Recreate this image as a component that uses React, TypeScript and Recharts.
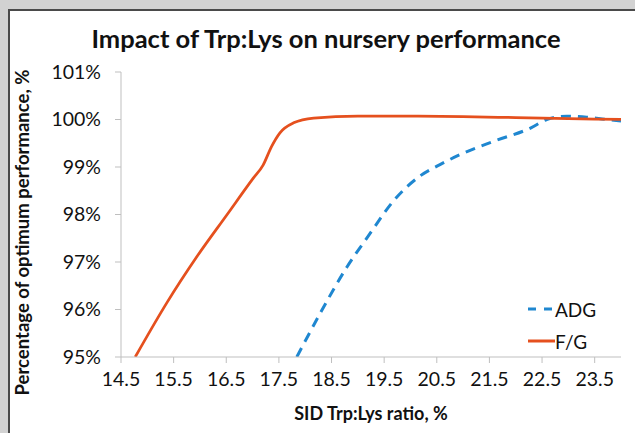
import React from 'react';
import { LineChart, Line, XAxis, YAxis, Legend } from 'recharts';

const xTicks = [14.5, 15.5, 16.5, 17.5, 18.5, 19.5, 20.5, 21.5, 22.5, 23.5];
const yTicks = [95, 96, 97, 98, 99, 100, 101];

const fgRatio = [14.77, 15.37, 15.94, 16.51, 17.01, 17.2, 17.36, 17.52, 17.78, 18.16, 19.0, 20.0, 21.0, 22.0, 23.0, 24.0];
const fgValue = [95.0, 96.14, 97.11, 97.99, 98.76, 99.04, 99.43, 99.72, 99.93, 100.03, 100.07, 100.07, 100.06, 100.04, 100.02, 100.0];

const adgRatio = [17.84, 18.28, 18.79, 19.2, 19.68, 20.18, 20.56, 20.94, 21.58, 22.28, 22.59, 22.97, 23.35, 23.73, 24.0];
const adgValue = [95.0, 95.91, 96.89, 97.55, 98.29, 98.81, 99.05, 99.26, 99.54, 99.82, 100.0, 100.07, 100.05, 100.0, 99.97];

const fgData = fgRatio.map((x, i) => ({ x, v: fgValue[i] }));
const adgData = adgRatio.map((x, i) => ({ x, v: adgValue[i] }));

const FONT = "Lato, 'Open Sans', sans-serif";
const ADG_COLOR = '#1F87D0';
const FG_COLOR = '#E5501E';
const AXIS_COLOR = '#BFBFBF';

const YLabel = (props: any) => {
  const vb = props.viewBox || { x: 0, y: 72, width: 121, height: 285 };
  const cx = 22;
  const cy = vb.y + vb.height / 2 + 18;
  return (
    <text
      x={cx}
      y={cy}
      transform={`rotate(-90 ${cx} ${cy})`}
      textAnchor="middle"
      dominantBaseline="central"
      style={{ fontFamily: FONT, fontSize: 18.5, fontWeight: 700, fill: '#111' }}
    >
      Percentage of optimum performance, %
    </text>
  );
};

const renderLegend = (props: any) => {
  const items = (props.payload || []).slice().sort((a: any, b: any) => (a.value === 'ADG' ? -1 : 1));
  return (
    <div style={{ fontFamily: FONT, fontSize: 19, color: '#111' }}>
      {items.map((it: any) => (
        <div key={it.value} style={{ display: 'flex', alignItems: 'center', height: 32 }}>
          <svg width={28} height={10} style={{ display: 'block' }}>
            <line
              x1={1}
              y1={5}
              x2={28}
              y2={5}
              stroke={it.color}
              strokeWidth={3}
              strokeDasharray={it.value === 'ADG' ? '8 8' : undefined}
            />
          </svg>
          <span>{it.value}</span>
        </div>
      ))}
    </div>
  );
};

export default function App() {
  return (
    <div style={{ position: 'absolute', left: 0, top: 0, width: 635, height: 433, background: '#d2d2d2', overflow: 'hidden' }}>
      <div
        style={{
          position: 'absolute',
          left: 8,
          top: 9,
          right: 0,
          bottom: 0,
          background: '#ffffff',
          borderTop: '2px solid #4a4a4a',
          borderLeft: '2px solid #4a4a4a',
        }}
      />
      <div
        style={{
          position: 'absolute',
          left: 0,
          top: 23,
          width: 652,
          textAlign: 'center',
          fontFamily: FONT,
          fontWeight: 700,
          fontSize: 25.5,
          color: '#111',
          whiteSpace: 'nowrap',
        }}
      >
        Impact of Trp:Lys on nursery performance
      </div>
      <div style={{ position: 'absolute', left: 0, top: 0 }}>
        <LineChart width={635} height={433} margin={{ top: 72, right: 14, bottom: 0, left: 0 }}>
          <XAxis
            dataKey="x"
            type="number"
            domain={[14.5, 24]}
            ticks={xTicks}
            allowDataOverflow
            height={76}
            stroke={AXIS_COLOR}
            tickSize={6}
            tickMargin={9}
            tick={{ fill: '#111', fontFamily: FONT, fontSize: 19.5 }}
            tickFormatter={(v: number) => v.toFixed(1)}
            label={{
              value: 'SID Trp:Lys ratio, %',
              position: 'insideBottom',
              offset: 13,
              style: { fontFamily: FONT, fontSize: 18, fontWeight: 700, fill: '#111' },
            }}
          />
          <YAxis
            type="number"
            domain={[95, 101]}
            ticks={yTicks}
            allowDataOverflow
            width={121}
            stroke={AXIS_COLOR}
            tickSize={6}
            tickMargin={14}
            tick={{ fill: '#111', fontFamily: FONT, fontSize: 19.5 }}
            tickFormatter={(v: number) => `${v}%`}
            label={<YLabel />}
          />
          <Legend
            layout="vertical"
            align="center"
            verticalAlign="middle"
            wrapperStyle={{ left: 527, top: 293, width: 90 }}
            content={renderLegend}
          />
          <Line
            data={adgData}
            dataKey="v"
            name="ADG"
            type="monotone"
            stroke={ADG_COLOR}
            strokeWidth={3}
            strokeDasharray="10 7"
            dot={false}
            activeDot={false}
            isAnimationActive={false}
          />
          <Line
            data={fgData}
            dataKey="v"
            name="F/G"
            type="monotone"
            stroke={FG_COLOR}
            strokeWidth={2.75}
            dot={false}
            activeDot={false}
            isAnimationActive={false}
          />
        </LineChart>
      </div>
    </div>
  );
}
